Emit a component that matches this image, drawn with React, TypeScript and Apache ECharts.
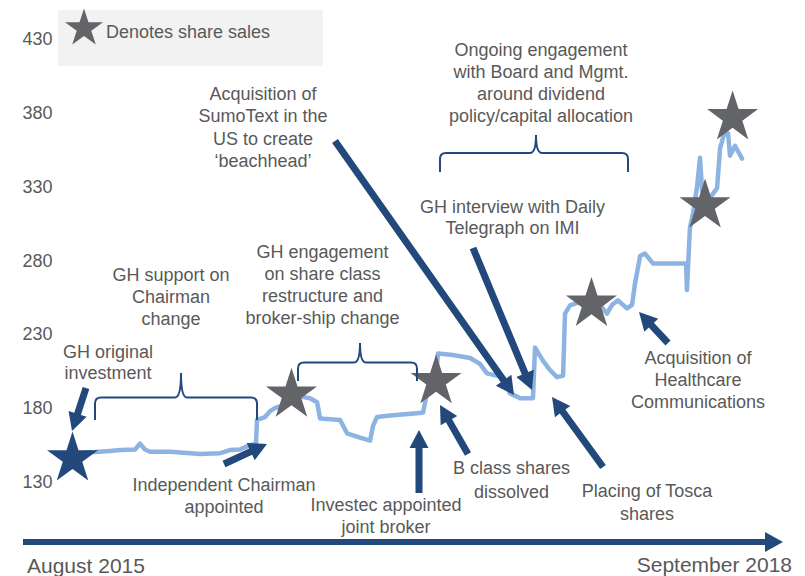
import React, { useEffect, useRef } from "react";
import * as echarts from "echarts";

// ---- data (x = months since August 2015, y = share price) ----
const yTicks = [130, 180, 230, 280, 330, 380, 430];
const priceMonths = [0.29, 0.86, 1.72, 2.3, 3.16, 3.44, 3.73, 4.02, 5.17, 6.89, 8.04, 8.61, 9.18, 9.76, 10.1, 10.16, 10.62, 10.91, 11.19, 11.65, 12.06, 12.63, 13.2, 13.61, 13.78, 14.93, 15.33, 16.07, 16.65, 16.82, 17.05, 17.8, 19.35, 19.69, 19.92, 20.38, 20.55, 21.41, 22.39, 22.96, 23.36, 24.28, 24.68, 25.26, 26.0, 26.12, 26.58, 26.98, 27.38, 27.73, 27.84, 28.13, 28.7, 29.39, 29.85, 30.25, 30.54, 30.88, 31.4, 31.69, 31.86, 32.15, 32.43, 32.89, 34.04, 34.79, 34.84, 35.01, 35.19, 35.42, 35.59, 35.71, 36.17, 36.57, 36.74, 37.03, 37.2, 37.31, 37.6, 38.0];
const priceValues = [150, 150.3, 151, 151.6, 152, 156, 152, 150.5, 150.5, 149, 149.5, 151.6, 152, 155, 156, 172, 174, 178, 180, 182, 186, 188, 186.7, 184, 173, 172, 163, 160, 158, 168, 174, 175, 176.6, 177, 190, 196, 217, 216, 214, 210, 203.6, 201, 190, 186.8, 186.8, 221, 212, 205.7, 201, 202, 244, 249.6, 252, 253, 250, 244, 250, 253, 247.6, 250, 264.5, 283, 284.7, 278, 278, 278, 260, 302, 311.7, 330, 349.6, 327, 322.6, 329, 356, 368, 366, 351, 357.7, 349];
const investMonths = [-0.43];
const investValues = [147.6];
const saleMonths = [12.14, 20.44, 29.36, 35.88, 37.46];
const saleValues = [190.8, 199.9, 252.3, 318.9, 378.6];
const startLabel = "August 2015";
const endLabel = "September 2018";
const legendLabel = "Denotes share sales";

const FONT = '"Liberation Sans", Arial, sans-serif';
const TEXT = "#595959";
const NAVY = "#23497c";
const GREY = "#636468";
const LINE = "#8db3e2";

function starPts(cx: number, cy: number, R: number) {
  const pts: number[][] = [];
  for (let i = 0; i < 10; i++) {
    const r = i % 2 === 0 ? R : R * 0.382;
    const a = -Math.PI / 2 + (i * Math.PI) / 5;
    pts.push([cx + r * Math.cos(a), cy + r * Math.sin(a)]);
  }
  return pts;
}
const starSymbol =
  "path://" +
  starPts(0, 0, 100)
    .map((p, i) => (i === 0 ? "M" : "L") + p[0].toFixed(2) + "," + p[1].toFixed(2))
    .join(" ") +
  " Z";

function arrowPts(x1: number, y1: number, x2: number, y2: number, w = 7, hw = 19, hl = 18) {
  const dx = x2 - x1, dy = y2 - y1;
  const len = Math.hypot(dx, dy);
  const ux = dx / len, uy = dy / len;
  const nx = -uy, ny = ux;
  const bx = x2 - ux * hl, by = y2 - uy * hl;
  return [
    [x1 + (nx * w) / 2, y1 + (ny * w) / 2],
    [bx + (nx * w) / 2, by + (ny * w) / 2],
    [bx + (nx * hw) / 2, by + (ny * hw) / 2],
    [x2, y2],
    [bx - (nx * hw) / 2, by - (ny * hw) / 2],
    [bx - (nx * w) / 2, by - (ny * w) / 2],
    [x1 - (nx * w) / 2, y1 - (ny * w) / 2],
  ];
}

function bracePath(L: number, R: number, T: number, yH: number, yTop: number, yBot: number, r = 6) {
  return `M${L},${yBot} L${L},${yH + r} Q${L},${yH} ${L + r},${yH} L${T - r},${yH} Q${T},${yH} ${T},${yTop} Q${T},${yH} ${T + r},${yH} L${R - r},${yH} Q${R},${yH} ${R},${yH + r} L${R},${yBot}`;
}

const annotations = [
  { text: "GH original\ninvestment", x: 108, y: 341.5, lh: 21 },
  { text: "GH support on\nChairman\nchange", x: 171, y: 264, lh: 22 },
  { text: "Independent Chairman\nappointed", x: 224, y: 474, lh: 22 },
  { text: "GH engagement\non share class\nrestructure and\nbroker-ship change", x: 322.5, y: 241, lh: 22 },
  { text: "Acquisition of\nSumoText in the\nUS to create\n\u2018beachhead\u2019", x: 263, y: 83, lh: 22.3 },
  { text: "Ongoing engagement\nwith Board and Mgmt.\naround dividend\npolicy/capital allocation", x: 541, y: 39, lh: 22 },
  { text: "GH interview with Daily\nTelegraph on IMI", x: 512.5, y: 196, lh: 21.5 },
  { text: "B class shares\ndissolved", x: 511.5, y: 456.5, lh: 23.5 },
  { text: "Placing of Tosca\nshares", x: 647, y: 479, lh: 23 },
  { text: "Acquisition of\nHealthcare\nCommunications", x: 698, y: 347, lh: 22 },
  { text: "Investec appointed\njoint broker", x: 386, y: 494, lh: 22 },
];

const arrows = [
  [86, 388, 72, 431],
  [224, 464, 267, 444],
  [419, 493, 419, 430],
  [468, 454, 440, 405],
  [335, 141, 514, 395],
  [473, 248, 532, 390],
  [603, 467, 552, 397],
  [668, 343, 639, 312],
];

const braces = [
  [95, 257, 181, 397.5, 373, 420],
  [298, 417, 360, 362.5, 343, 381],
  [440, 628, 536, 153, 135, 172],
];

export default function App() {
  const ref = useRef<HTMLDivElement>(null);
  useEffect(() => {
    if (!ref.current) return;
    braces.forEach((b, i) => {
      echarts.graphic.registerShape(
        "brace" + i,
        echarts.graphic.extendPath(bracePath(b[0], b[1], b[2], b[3], b[4], b[5]), {})
      );
    });
    const chart = echarts.init(ref.current, undefined, { renderer: "svg" });
    const graphic: any[] = [];
    graphic.push({
      type: "rect",
      z: 1,
      shape: { x: 58, y: 10, width: 265, height: 56 },
      style: { fill: "#f2f2f2" },
    });
    graphic.push({
      type: "polygon",
      z: 5,
      shape: { points: starPts(84, 28.4, 20) },
      style: { fill: GREY },
    });
    graphic.push({
      type: "text",
      z: 5,
      x: 106,
      y: 32,
      style: { text: legendLabel, font: `18px ${FONT}`, fill: TEXT, align: "left", verticalAlign: "middle" },
    });
    annotations.forEach((a) => {
      graphic.push({
        type: "text",
        z: 5,
        x: a.x,
        y: a.y,
        style: { text: a.text, font: `18px ${FONT}`, fill: TEXT, align: "center", verticalAlign: "top", lineHeight: a.lh },
      });
    });
    braces.forEach((_, i) => {
      graphic.push({
        type: "brace" + i,
        z: 5,
        style: { fill: null, stroke: NAVY, lineWidth: 2 },
      });
    });
    arrows.forEach((a) => {
      graphic.push({
        type: "polygon",
        z: 10,
        shape: { points: arrowPts(a[0], a[1], a[2], a[3]) },
        style: { fill: NAVY },
      });
    });
    graphic.push({
      type: "polygon",
      z: 10,
      shape: { points: arrowPts(23, 542, 783, 542, 6, 20, 18) },
      style: { fill: NAVY },
    });
    graphic.push({
      type: "text",
      z: 5,
      x: 27,
      y: 565,
      style: { text: startLabel, font: `21px ${FONT}`, fill: TEXT, align: "left", verticalAlign: "middle" },
    });
    graphic.push({
      type: "text",
      z: 5,
      x: 792,
      y: 564,
      style: { text: endLabel, font: `21px ${FONT}`, fill: TEXT, align: "right", verticalAlign: "middle" },
    });

    chart.setOption({
      animation: false,
      backgroundColor: "#ffffff",
      grid: { left: 62.58, right: 63, top: 39, bottom: 94, containLabel: false, outerBoundsMode: "none" },
      xAxis: { type: "value", min: -1, max: 38, show: false },
      yAxis: {
        type: "value",
        min: yTicks[0],
        max: yTicks[yTicks.length - 1],
        interval: 50,
        axisLine: { show: false },
        axisTick: { show: false },
        splitLine: { show: false },
        axisLabel: { color: TEXT, fontSize: 18, fontFamily: FONT, margin: 10 },
      },
      series: [
        {
          type: "line",
          data: priceMonths.map((m, i) => [m, priceValues[i]]),
          showSymbol: false,
          symbol: "none",
          lineStyle: { color: LINE, width: 4.5, join: "round", cap: "round" },
          z: 2,
        },
        {
          type: "scatter",
          data: investMonths.map((m, i) => [m, investValues[i]]),
          symbol: starSymbol,
          symbolSize: [51, 49],
          itemStyle: { color: NAVY, opacity: 1 },
          clip: false,
          z: 4,
        },
        {
          type: "scatter",
          data: saleMonths.map((m, i) => [m, saleValues[i]]),
          symbol: starSymbol,
          symbolSize: [51, 49],
          itemStyle: { color: GREY, opacity: 1 },
          clip: false,
          z: 4,
        },
      ],
      graphic,
    });
    return () => chart.dispose();
  }, []);
  return (
    <div
      ref={ref}
      style={{ position: "fixed", left: 0, top: 0, width: 805, height: 576, background: "#fff" }}
    />
  );
}
